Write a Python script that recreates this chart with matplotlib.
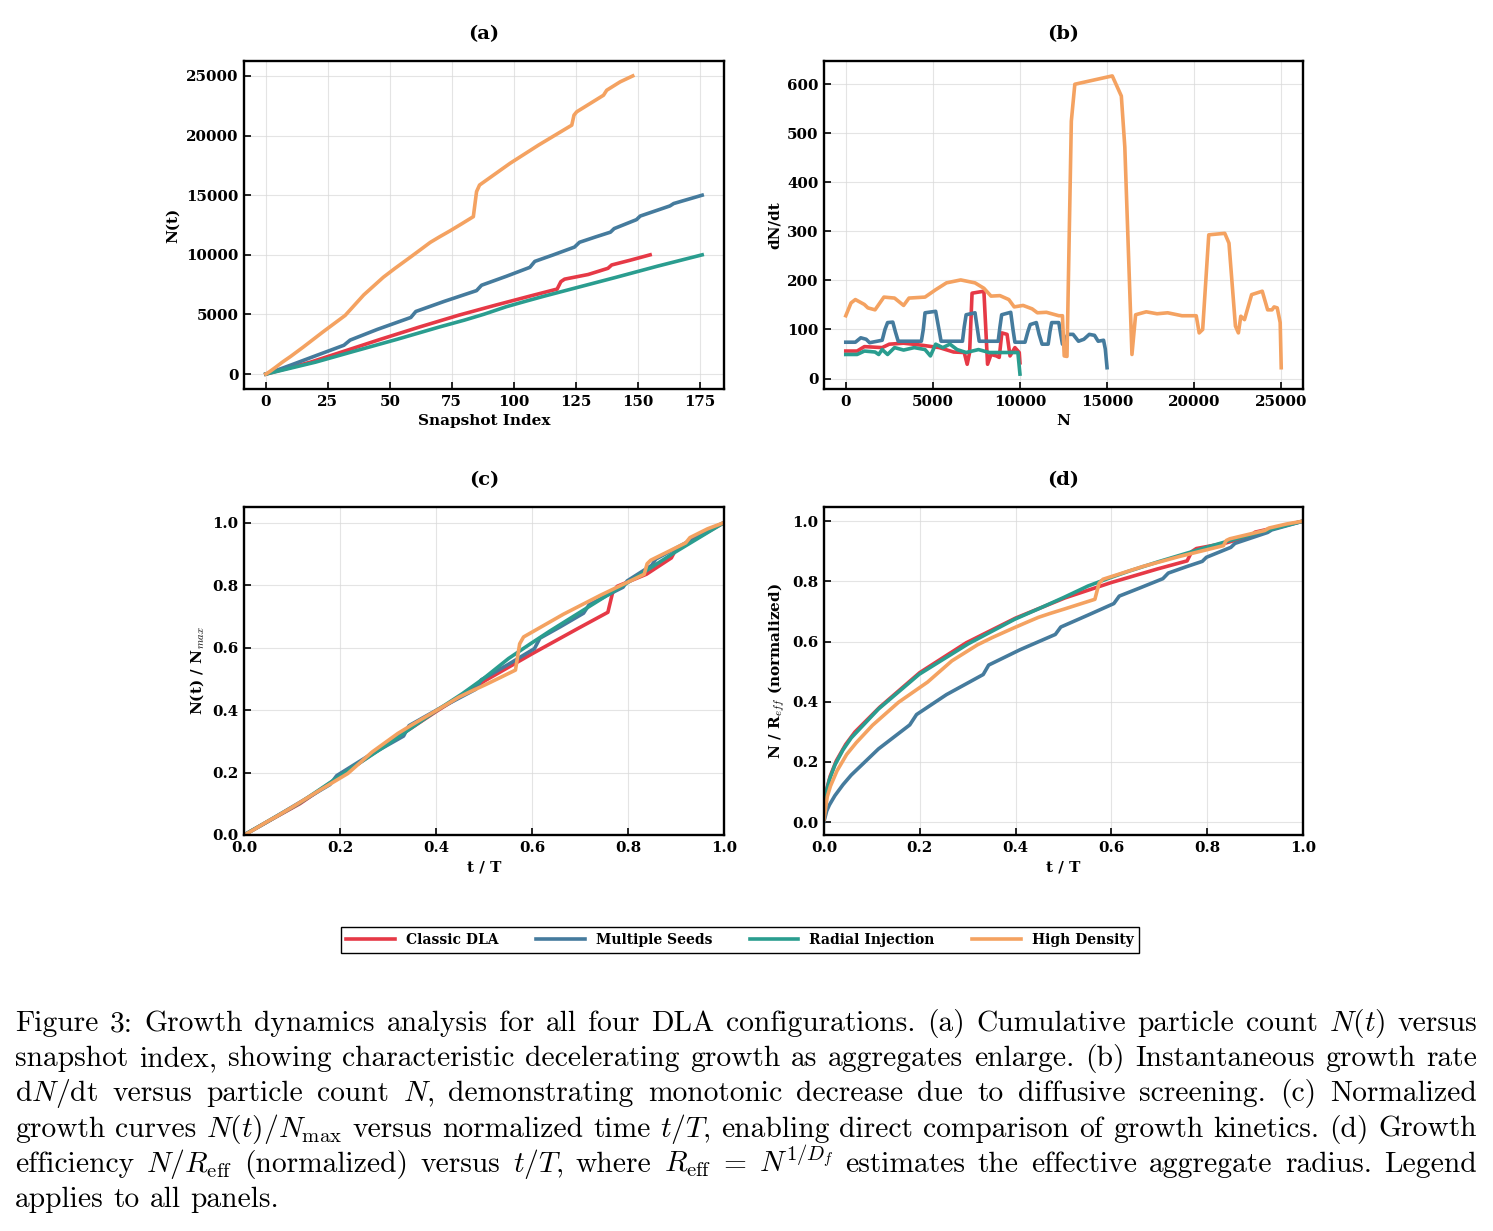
import matplotlib
matplotlib.use("Agg")
import matplotlib.pyplot as plt
import numpy as np

# ---------------- data ----------------
series_names = ["Classic DLA", "Multiple Seeds", "Radial Injection", "High Density"]
series_colors = ["#E63946", "#457B9D", "#2A9D8F", "#F4A261"]

# (a) cumulative particle count N vs snapshot index
classic_idx = [0, 1, 2, 4, 7, 10, 18, 31, 46, 62, 78, 93, 108, 117.5, 119, 120.5, 130, 138, 139.5, 147, 155]
classic_N = [1, 56, 112, 224, 392, 560, 1000, 1880, 2900, 3950, 4950, 5800, 6620, 7130, 7750, 7960, 8350, 8870, 9150, 9550, 10000]

multi_idx = [0, 1, 2, 4, 7, 10, 20, 31.5, 34, 45, 58.5, 60.5, 72, 85, 87, 97, 106.5, 108.5, 116, 124.5, 126.5,
             133, 139, 140.5, 149.5, 151, 163, 164.5, 176]
multi_N = [1, 74, 148, 296, 520, 750, 1530, 2420, 2850, 3750, 4750, 5250, 6100, 7000, 7450, 8200, 8950, 9450, 10000,
           10650, 11050, 11500, 11900, 12200, 12950, 13250, 14100, 14300, 15000]

radial_idx = [0, 1, 2, 4, 7, 10, 20, 35, 53, 70, 80, 88, 97, 105, 112, 123, 141, 158, 176]
radial_N = [1, 50, 100, 200, 350, 500, 1000, 1880, 2920, 3950, 4520, 5020, 5650, 6120, 6520, 7120, 8100, 9050, 10000]

high_idx = [0, 1, 2, 4, 7, 10, 15, 23, 32, 39.5, 47.4, 52, 58.2, 62.5, 66.3, 70, 74.3, 79, 83.7, 84.5, 85, 86.2,
            98.5, 110, 123.4, 124.3, 125.4, 136.2, 137.5, 142.9, 148]
high_N = [1, 130, 275, 580, 1050, 1480, 2250, 3530, 4920, 6640, 8120, 8850, 9790, 10450, 11040, 11500, 12010, 12600,
          13200, 14500, 15300, 15850, 17670, 19200, 20870, 21710, 21990, 23380, 23800, 24500, 25000]

# (b) instantaneous growth rate dN/dt vs N
classic_bN = [0, 650, 1070, 2090, 2500, 3320, 4340, 5370, 6190, 6800, 6970, 7110, 7250, 7930, 8140, 8340, 8650, 8810,
              8960, 9260, 9430, 9710, 9960, 10000]
classic_rate = [56, 56, 65, 63, 70, 72, 68, 63, 54, 53, 29, 53, 174, 178, 29, 49, 46, 43, 93, 90, 46, 63, 53, 32]

multi_bN = [0, 550, 860, 1170, 1370, 2090, 2250, 2400, 2700, 2850, 3010, 4340, 4450, 4550, 5160, 5350, 5470, 6700,
            6800, 6910, 7420, 7560, 7660, 8750, 8850, 8950, 9470, 9600, 9710, 10290, 10450, 10590, 10940, 11100,
            11270, 11620, 11720, 11820, 12230, 12340, 12440, 12750, 13050, 13360, 13670, 13980, 14280, 14490, 14800,
            14900, 15000]
multi_rate = [74, 74, 83, 80, 73, 78, 100, 114, 115, 95, 76, 76, 100, 134, 137, 100, 76, 76, 105, 130, 134, 100, 76,
              76, 105, 130, 135, 100, 74, 74, 95, 110, 114, 90, 70, 70, 95, 114, 114, 90, 70, 90, 90, 76, 80, 90, 88,
              76, 78, 60, 22]

radial_bN = [0, 650, 1070, 1680, 1890, 2090, 2400, 2800, 3320, 3930, 4550, 4860, 5160, 5570, 5980, 6390, 6910, 7620,
             8240, 9260, 9880, 10000]
radial_rate = [49, 49, 56, 54, 49, 59, 49, 63, 58, 63, 59, 46, 70, 63, 70, 59, 53, 59, 53, 53, 53, 9]

high_bN = [0, 300, 550, 1065, 1270, 1680, 2190, 2800, 3320, 3630, 4550, 5160, 5780, 6600, 7420, 7930, 8340, 8850,
           9360, 9670, 10180, 10700, 11000, 11520, 12230, 12440, 12540, 12700, 12950, 13150, 15300, 15820, 16020,
           16430, 16640, 17250, 17870, 18480, 19300, 20120, 20290, 20490, 20840, 21760, 22000, 22370, 22540, 22680,
           22890, 23300, 23910, 24220, 24470, 24590, 24770, 24940, 25000]
high_rate = [128, 154, 161, 151, 144, 140, 166, 164, 149, 164, 166, 181, 195, 201, 195, 184, 168, 169, 161, 146, 149,
             142, 134, 135, 128, 128, 46, 45, 525, 600, 617, 576, 472, 49, 130, 136, 132, 134, 128, 128, 93, 100, 293,
             296, 276, 107, 93, 127, 120, 171, 178, 140, 140, 146, 144, 114, 22]

# (d) fractal dimension used for R_eff = N^(1/Df)
fractal_dims = [1.72, 2.63, 1.74, 1.89]

caption_lines = [
    r"Figure 3: Growth dynamics analysis for all four DLA configurations. (a) Cumulative particle count $N(t)$ versus",
    r"snapshot index, showing characteristic decelerating growth as aggregates enlarge. (b) Instantaneous growth rate",
    r"d$N$/dt versus particle count $N$, demonstrating monotonic decrease due to diffusive screening. (c) Normalized",
    r"growth curves $N(t)/N_{\mathrm{max}}$ versus normalized time $t/T$, enabling direct comparison of growth kinetics. (d) Growth",
    r"efficiency $N/R_{\mathrm{eff}}$ (normalized) versus $t/T$, where $R_{\mathrm{eff}}$ = $N^{1/D_f}$ estimates the effective aggregate radius. Legend",
    r"applies to all panels.",
]

idx_list = [classic_idx, multi_idx, radial_idx, high_idx]
N_list = [classic_N, multi_N, radial_N, high_N]
bN_list = [classic_bN, multi_bN, radial_bN, high_bN]
rate_list = [classic_rate, multi_rate, radial_rate, high_rate]

# ---------------- style ----------------
plt.rcParams.update({
    "font.family": "serif",
    "font.serif": ["DejaVu Serif"],
    "font.weight": "bold",
    "axes.labelweight": "bold",
    "axes.titleweight": "bold",
    "mathtext.fontset": "cm",
})

W, H = 1493, 1231
fig = plt.figure(figsize=(W / 100, H / 100), dpi=100)

def px_axes(l, t, r, b):
    return fig.add_axes([l / W, 1 - b / H, (r - l) / W, (b - t) / H])

ax_a = px_axes(244, 61, 724, 389)
ax_b = px_axes(824, 61, 1303, 389)
ax_c = px_axes(244, 507, 724, 835)
ax_d = px_axes(824, 507, 1303, 835)

LW = 2.6
for name, col, ix, n, bn, rt, df in zip(series_names, series_colors, idx_list, N_list, bN_list, rate_list, fractal_dims):
    ix = np.asarray(ix, float)
    n = np.asarray(n, float)
    ax_a.plot(ix, n, color=col, lw=LW, label=name)
    ax_b.plot(bn, rt, color=col, lw=LW)
    t = ix / ix.max()
    ax_c.plot(t, n / n.max(), color=col, lw=LW)
    eff = n ** (1 - 1 / df)
    ax_d.plot(t, eff / eff.max(), color=col, lw=LW)

ax_a.set_xlabel("Snapshot Index", fontsize=11, labelpad=4)
ax_a.set_ylabel("N(t)", fontsize=11)
ax_a.set_xticks([0, 25, 50, 75, 100, 125, 150, 175])
ax_a.set_yticks([0, 5000, 10000, 15000, 20000, 25000])

ax_b.set_xlabel("N", fontsize=11, labelpad=4)
ax_b.set_ylabel("dN/dt", fontsize=11)
ax_b.set_xticks([0, 5000, 10000, 15000, 20000, 25000])
ax_b.set_yticks([0, 100, 200, 300, 400, 500, 600])

ax_c.set_xlabel("t / T", fontsize=11, labelpad=4)
ax_c.set_ylabel(r"N(t) / N$_{max}$", fontsize=11)
ax_c.set_xlim(0, 1)
ax_c.set_ylim(0, 1.05)
ax_c.set_xticks([0, 0.2, 0.4, 0.6, 0.8, 1.0])
ax_c.set_yticks([0, 0.2, 0.4, 0.6, 0.8, 1.0])

ax_d.set_xlabel("t / T", fontsize=11, labelpad=4)
ax_d.set_ylabel(r"N / R$_{eff}$ (normalized)", fontsize=11)
ax_d.set_xlim(0, 1)
ax_d.set_ylim(-0.043, 1.047)
ax_d.set_xticks([0, 0.2, 0.4, 0.6, 0.8, 1.0])
ax_d.set_yticks([0, 0.2, 0.4, 0.6, 0.8, 1.0])

for ax, title in zip([ax_a, ax_b, ax_c, ax_d], ["(a)", "(b)", "(c)", "(d)"]):
    ax.set_title(title, fontsize=14, fontweight="bold", pad=16)
    ax.grid(True, color="#d9d9d9", lw=0.8, alpha=0.7)
    ax.set_axisbelow(True)
    ax.tick_params(direction="in", length=5, width=1.2, labelsize=10.8, pad=4)
    for sp in ax.spines.values():
        sp.set_linewidth(1.7)
    for lab in ax.get_xticklabels() + ax.get_yticklabels():
        lab.set_fontweight("bold")

handles, labels = ax_a.get_legend_handles_labels()
leg = fig.legend(handles, labels, loc="center", bbox_to_anchor=(740 / W, 1 - 940 / H), ncol=4,
                 prop={"family": "DejaVu Serif", "weight": "bold", "size": 10},
                 frameon=True, fancybox=False, edgecolor="black", framealpha=1,
                 handlelength=3.5, columnspacing=2.7, borderpad=0.4, handletextpad=0.8)
leg.get_frame().set_linewidth(1.0)

# ---------------- caption (justified) ----------------
renderer = fig.canvas.get_renderer()
x_left, x_right = 15 / W, 1477 / W
target = x_right - x_left
base0 = 1031
dy = 35.2

def make_words(fs):
    out = []
    for i, line in enumerate(caption_lines):
        words = line.split(" ")
        texts = [fig.text(0, 1 - (base0 + i * dy) / H, w, fontsize=fs, family="cmr10",
                          fontweight="normal", va="baseline", ha="left") for w in words]
        widths = [t.get_window_extent(renderer).width / W for t in texts]
        out.append((texts, widths))
    return out

fs0 = 20.0
tmp = make_words(fs0)
space0 = 0.333 * fs0 * 100 / 72 / W
nat = [sum(wd) + (len(wd) - 1) * space0 for _, wd in tmp[:-1]]
for texts, _ in tmp:
    for t in texts:
        t.remove()
fs = fs0 * target / max(nat)
space = 0.333 * fs * 100 / 72 / W
lines = make_words(fs)
for i, (texts, widths) in enumerate(lines):
    if i < len(lines) - 1:
        gap = (target - sum(widths)) / (len(texts) - 1)
    else:
        gap = space
    x = x_left
    for t, wd in zip(texts, widths):
        t.set_x(x)
        x += wd + gap

fig.savefig("out.png", dpi=100)
